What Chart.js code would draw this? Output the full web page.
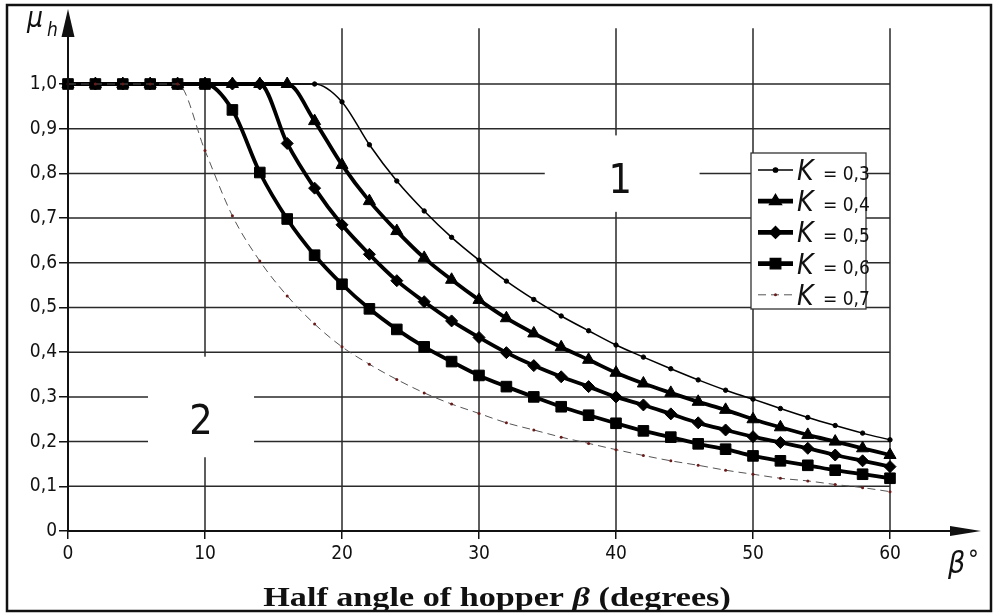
<!DOCTYPE html>
<html>
<head>
<meta charset="utf-8">
<title>Hopper wall friction factor</title>
<script src="https://cdn.jsdelivr.net/npm/chart.js@4.4.0/dist/chart.umd.min.js"></script>
<style>
  html, body { margin: 0; padding: 0; background: #fff; }
  #wrap { width: 995px; height: 613px; }
</style>
</head>
<body>
<div id="wrap"><canvas id="muChart" width="995" height="613"></canvas></div>
<script>
// half angle of hopper (degrees), one point every 2 degrees
const angles = [0, 2, 4, 6, 8, 10, 12, 14, 16, 18, 20, 22, 24, 26, 28, 30,
                32, 34, 36, 38, 40, 42, 44, 46, 48, 50, 52, 54, 56, 58, 60];

// mu_h, one list per K value
const k03 = [1.0, 1.0, 1.0, 1.0, 1.0, 1.0, 1.0, 1.0, 1.0, 1.0, 0.960, 0.864, 0.783, 0.716, 0.657, 0.606,
             0.559, 0.518, 0.481, 0.448, 0.416, 0.389, 0.363, 0.338, 0.315, 0.295, 0.274, 0.254, 0.236, 0.219, 0.204];
const k04 = [1.0, 1.0, 1.0, 1.0, 1.0, 1.0, 1.0, 1.0, 1.0, 0.917, 0.819, 0.738, 0.671, 0.611, 0.562, 0.517,
             0.476, 0.442, 0.411, 0.383, 0.354, 0.330, 0.309, 0.289, 0.271, 0.250, 0.232, 0.215, 0.200, 0.185, 0.170];
const k05 = [1.0, 1.0, 1.0, 1.0, 1.0, 1.0, 1.0, 1.0, 0.867, 0.767, 0.685, 0.619, 0.560, 0.513, 0.470, 0.433,
             0.399, 0.370, 0.345, 0.323, 0.300, 0.282, 0.262, 0.242, 0.226, 0.211, 0.198, 0.185, 0.170, 0.157, 0.144];
const k06 = [1.0, 1.0, 1.0, 1.0, 1.0, 1.0, 0.942, 0.802, 0.698, 0.617, 0.552, 0.497, 0.451, 0.412, 0.379, 0.348,
             0.323, 0.300, 0.278, 0.259, 0.241, 0.224, 0.210, 0.195, 0.183, 0.168, 0.157, 0.147, 0.136, 0.127, 0.118];
const k07 = [1.0, 1.0, 1.0, 1.0, 1.0, 0.851, 0.705, 0.604, 0.526, 0.463, 0.412, 0.373, 0.339, 0.309, 0.284, 0.263,
             0.242, 0.226, 0.210, 0.196, 0.182, 0.169, 0.157, 0.147, 0.136, 0.127, 0.118, 0.112, 0.104, 0.097, 0.088];

const kLabels = ['0,3', '0,4', '0,5', '0,6', '0,7'];

const xTicks = [0, 10, 20, 30, 40, 50, 60];
const yTicks = [0, 0.1, 0.2, 0.3, 0.4, 0.5, 0.6, 0.7, 0.8, 0.9, 1.0];
const yTickLabels = ['0', '0,1', '0,2', '0,3', '0,4', '0,5', '0,6', '0,7', '0,8', '0,9', '1,0'];

const FONT = "'DejaVu Sans Condensed', 'Liberation Sans Narrow', 'DejaVu Sans', sans-serif";
const INK = '#111';

function pts(values) {
    return angles.map((a, i) => ({ x: a, y: values[i] }));
}

// grid, region labels, legend, axis arrows - the figure is drawn in a drafting style
const decor = {
    id: 'decor',
    beforeDatasetsDraw(chart) {
        const { ctx } = chart;
        const xs = chart.scales.x, ys = chart.scales.y;
        ctx.save();
        ctx.strokeStyle = '#2a2a2a';
        ctx.lineWidth = 1.5;
        ctx.beginPath();
        yTicks.forEach(v => {
            if (v === 0) return;
            const py = ys.getPixelForValue(v);
            ctx.moveTo(xs.getPixelForValue(0), py);
            ctx.lineTo(xs.getPixelForValue(60), py);
        });
        xTicks.forEach(v => {
            if (v === 0) return;
            const px = xs.getPixelForValue(v);
            ctx.moveTo(px, ys.getPixelForValue(0));
            ctx.lineTo(px, ys.getPixelForValue(v === 10 ? 1.0 : 1.125));
        });
        ctx.stroke();

        // white patches round the zone numbers "1" and "2"
        ctx.fillStyle = '#fff';
        [[34.8, 46.1, 0.714, 0.885], [5.84, 13.58, 0.165, 0.39]].forEach(g => {
            const x1 = xs.getPixelForValue(g[0]), x2 = xs.getPixelForValue(g[1]);
            const y1 = ys.getPixelForValue(g[3]), y2 = ys.getPixelForValue(g[2]);
            ctx.fillRect(x1, y1, x2 - x1, y2 - y1);
        });
        ctx.fillStyle = INK;
        ctx.font = '41px ' + FONT;
        ctx.textAlign = 'center';
        ctx.textBaseline = 'middle';
        ctx.fillText('1', xs.getPixelForValue(40.3), ys.getPixelForValue(0.78));
        ctx.fillText('2', xs.getPixelForValue(9.7), ys.getPixelForValue(0.24));
        ctx.restore();
    },
    afterDraw(chart) {
        const { ctx } = chart;
        const xs = chart.scales.x, ys = chart.scales.y;
        const x0 = xs.getPixelForValue(0), y0 = ys.getPixelForValue(0);
        ctx.save();

        // axes with arrow heads
        ctx.strokeStyle = INK;
        ctx.fillStyle = INK;
        ctx.lineWidth = 2;
        ctx.beginPath();
        ctx.moveTo(x0, y0);
        ctx.lineTo(x0, 20);
        ctx.moveTo(x0, y0);
        ctx.lineTo(960, y0);
        ctx.stroke();
        ctx.beginPath();
        ctx.moveTo(x0, 9);
        ctx.lineTo(x0 - 6.5, 37);
        ctx.lineTo(x0 + 6.5, 37);
        ctx.closePath();
        ctx.fill();
        ctx.beginPath();
        ctx.moveTo(981, y0);
        ctx.lineTo(950, y0 - 5);
        ctx.lineTo(950, y0 + 5);
        ctx.closePath();
        ctx.fill();

        // axis symbols
        ctx.textAlign = 'left';
        ctx.textBaseline = 'alphabetic';
        ctx.font = 'italic 28px ' + FONT;
        ctx.fillText('\u03bc', 27, 27);
        ctx.font = 'italic 19px ' + FONT;
        ctx.fillText('h', 47, 36);
        ctx.font = 'italic 30px ' + FONT;
        ctx.fillText('\u03b2', 948, 573);
        ctx.font = '24px ' + FONT;
        ctx.fillText('\u00b0', 968, 568);

        // x axis caption (the original face is wider than Times, so stretch it a little)
        const serif = "'Liberation Serif', 'Times New Roman', serif";
        const parts = [['Half angle of hopper ', 'bold 28px ' + serif],
                       ['\u03b2', 'italic bold 28px ' + serif],
                       [' (degrees)', 'bold 28px ' + serif]];
        const stretch = 1.22;
        let total = 0;
        parts.forEach(p => { ctx.font = p[1]; total += ctx.measureText(p[0]).width; });
        ctx.save();
        ctx.translate(497 - total * stretch / 2, 606);
        ctx.scale(stretch, 1);
        let tx = 0;
        parts.forEach(p => { ctx.font = p[1]; ctx.fillText(p[0], tx, 0); tx += ctx.measureText(p[0]).width; });
        ctx.restore();

        // legend
        const lx = 751, ly = 153, lw = 115, lh = 156;
        ctx.fillStyle = '#fff';
        ctx.fillRect(lx, ly, lw, lh);
        ctx.strokeStyle = '#333';
        ctx.lineWidth = 1.3;
        ctx.strokeRect(lx, ly, lw, lh);
        chart.data.datasets.forEach((ds, i) => {
            const cy = 170 + i * 31.2;
            ctx.save();
            ctx.strokeStyle = ds.borderColor;
            ctx.lineWidth = ds.borderWidth + (ds.borderWidth > 2 ? 1 : 0);
            ctx.setLineDash(ds.borderDash || []);
            ctx.beginPath();
            ctx.moveTo(758, cy);
            ctx.lineTo(793, cy);
            ctx.stroke();
            ctx.restore();
            ctx.fillStyle = ds.pointBackgroundColor;
            ctx.strokeStyle = ds.pointBorderColor;
            Chart.helpers.drawPoint(ctx, {
                pointStyle: ds.pointStyle, radius: ds.pointRadius,
                borderWidth: ds.pointBorderWidth, rotation: 0
            }, 775.5, cy);
            ctx.fillStyle = INK;
            ctx.font = 'italic 28px ' + FONT;
            ctx.fillText('K', 797, cy + 10);
            ctx.font = '19px ' + FONT;
            ctx.fillText('= ' + kLabels[i], 823, cy + 10);
        });

        // frame round the figure
        ctx.strokeStyle = INK;
        ctx.lineWidth = 2.5;
        ctx.strokeRect(7, 5, 984, 606);
        ctx.restore();
    }
};

function series(label, values, extra) {
    return Object.assign({
        label: 'K = ' + label,
        data: pts(values),
        borderColor: '#000',
        pointBackgroundColor: '#000',
        pointBorderColor: '#000',
        pointBorderWidth: 1,
        cubicInterpolationMode: 'monotone',
        clip: false
    }, extra);
}

new Chart(document.getElementById('muChart'), {
    type: 'line',
    data: {
        datasets: [
            series(kLabels[0], k03, { borderWidth: 1.5, pointStyle: 'circle', pointRadius: 2.2, order: 1 }),
            series(kLabels[1], k04, { borderWidth: 3.8, pointStyle: 'triangle', pointRadius: 7, order: 4 }),
            series(kLabels[2], k05, { borderWidth: 3.8, pointStyle: 'rectRot', pointRadius: 6, order: 3 }),
            series(kLabels[3], k06, { borderWidth: 3.8, pointStyle: 'rect', pointRadius: 7.5, order: 2 }),
            series(kLabels[4], k07, {
                borderWidth: 1, borderColor: '#555', borderDash: [8, 5], pointStyle: 'circle', pointRadius: 1.5,
                pointBackgroundColor: '#6b1a1a', pointBorderColor: '#6b1a1a', pointBorderWidth: 0, order: 0
            })
        ]
    },
    options: {
        responsive: false,
        animation: false,
        layout: { padding: { left: 0, right: 105, top: 84, bottom: 0 } },
        plugins: {
            legend: { display: false },
            tooltip: { enabled: false }
        },
        scales: {
            x: {
                type: 'linear',
                min: 0,
                max: 60,
                afterFit: s => { s.height = 82; },
                afterBuildTicks: s => { s.ticks = xTicks.map(v => ({ value: v })); },
                border: { display: false },
                grid: { drawOnChartArea: false, drawTicks: true, tickLength: 8, color: INK, lineWidth: 1.5 },
                ticks: { padding: 4, color: INK, font: { family: FONT, size: 19 }, maxRotation: 0 }
            },
            y: {
                min: 0,
                max: 1.0,
                afterFit: s => { s.width = 68; },
                afterBuildTicks: s => { s.ticks = yTicks.map(v => ({ value: v })); },
                border: { display: false },
                grid: { drawOnChartArea: false, drawTicks: true, tickLength: 9, color: INK, lineWidth: 1.5 },
                ticks: {
                    padding: 2, color: INK, font: { family: FONT, size: 19 },
                    callback: (v, i) => yTickLabels[i]
                }
            }
        }
    },
    plugins: [decor]
});
</script>
</body>
</html>
